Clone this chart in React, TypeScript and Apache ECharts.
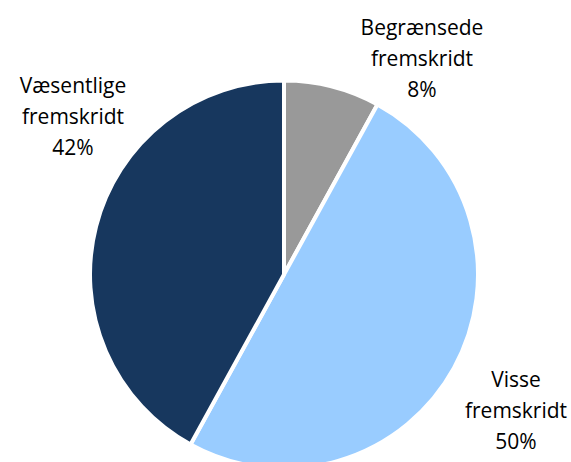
import React, { useEffect, useRef } from "react";
import * as echarts from "echarts";

const categories = ["Begrænsede\nfremskridt", "Visse\nfremskridt", "Væsentlige\nfremskridt"];
const values = [8, 50, 42];
const colors = ["#999999", "#99CCFF", "#17375E"];
const labelPositions = [
  [422, 58],
  [516, 410],
  [73, 116],
];

export default function App() {
  const ref = useRef<HTMLDivElement>(null);
  useEffect(() => {
    document.body.style.margin = "0";
    const chart = echarts.init(ref.current!, undefined, { renderer: "svg" });
    chart.setOption({
      animation: false,
      backgroundColor: "#ffffff",
      series: [
        {
          type: "pie",
          center: [284, 274.5],
          radius: 194,
          startAngle: 90,
          clockwise: true,
          itemStyle: { borderColor: "#ffffff", borderWidth: 4 },
          label: {
            show: true,
            formatter: (p: any) => `${p.name}\n${p.value}%`,
            fontFamily: "Open Sans",
            fontSize: 21,
            lineHeight: 31,
            color: "#000000",
            align: "center",
            overflow: "none",
            width: 200,
          },
          labelLine: { show: false },
          labelLayout: (params: any) => {
            const pos = labelPositions[params.dataIndex];
            return { x: pos[0], y: pos[1], align: "center", verticalAlign: "middle" };
          },
          emphasis: { disabled: true },
          data: categories.map((c, i) => ({ name: c, value: values[i], itemStyle: { color: colors[i] } })),
        },
      ],
    });
    return () => chart.dispose();
  }, []);
  return <div ref={ref} style={{ width: 571, height: 462 }} />;
}
